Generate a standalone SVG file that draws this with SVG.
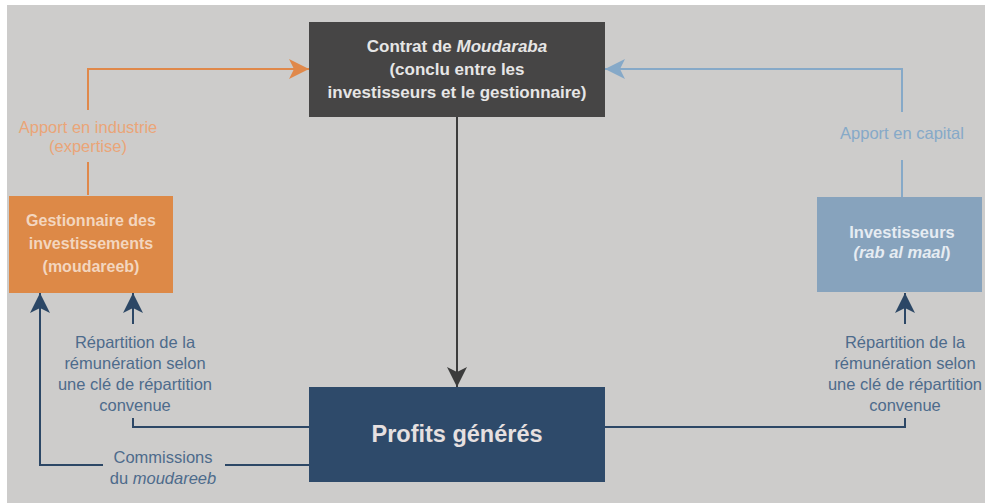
<svg xmlns="http://www.w3.org/2000/svg" width="985" height="503" viewBox="0 0 985 503">
<defs>
<style>
.lbl{font-family:"Liberation Sans",Arial,sans-serif;font-size:16.5px;text-anchor:middle}
.nav{fill:#4d6b8c}
.box{font-family:"Liberation Sans",Arial,sans-serif;font-weight:bold;text-anchor:middle}
.ln{fill:none;stroke-width:2}
</style>
<marker id="aO" viewBox="0 0 20 20" refX="20" refY="10" markerWidth="20" markerHeight="20" markerUnits="userSpaceOnUse" orient="auto"><path d="M0,0 L20,10 L0,20 L5,10 Z" fill="#e0884a"/></marker>
<marker id="aB" viewBox="0 0 20 20" refX="20" refY="10" markerWidth="20" markerHeight="20" markerUnits="userSpaceOnUse" orient="auto"><path d="M0,0 L20,10 L0,20 L5,10 Z" fill="#86a9c8"/></marker>
<marker id="aG" viewBox="0 0 20 20" refX="20" refY="10" markerWidth="20" markerHeight="20" markerUnits="userSpaceOnUse" orient="auto"><path d="M0,0 L20,10 L0,20 L5,10 Z" fill="#3c3c3c"/></marker>
<marker id="aN" viewBox="0 0 20 20" refX="20" refY="10" markerWidth="20" markerHeight="20" markerUnits="userSpaceOnUse" orient="auto"><path d="M0,0 L20,10 L0,20 L5,10 Z" fill="#2c4766"/></marker>
</defs>
<rect x="0" y="0" width="985" height="503" fill="#ffffff"/>
<rect x="7" y="5" width="978" height="498" fill="#cdcccb"/>

<g id="connectors">
<path class="ln" d="M88,195 V162 M88,110 V69 H309" stroke="#e0884a" marker-end="url(#aO)"/>
<path class="ln" d="M902,197 V160 M902,112 V69 H605" stroke="#86a9c8" marker-end="url(#aB)"/>
<path class="ln" d="M457,117 V387" stroke="#3c3c3c" marker-end="url(#aG)"/>
<path class="ln" d="M309,427 H133 V418" stroke="#2c4766"/>
<path class="ln" d="M133,324 V293" stroke="#2c4766" marker-end="url(#aN)"/>
<path class="ln" d="M309,465 H225 M103,465 H40 V293" stroke="#2c4766" marker-end="url(#aN)"/>
<path class="ln" d="M605,427 H905 V418" stroke="#2c4766"/>
<path class="ln" d="M905,324 V293" stroke="#2c4766" marker-end="url(#aN)"/>
</g>

<g id="contrat">
<rect x="309" y="22" width="296" height="95" fill="#464545"/>
<text class="box" font-size="17" fill="#e6e6e6" x="457" y="52">Contrat de <tspan font-style="italic">Moudaraba</tspan></text>
<text class="box" font-size="17" fill="#e6e6e6" x="457" y="75">(conclu entre les</text>
<text class="box" font-size="17" fill="#e6e6e6" x="457" y="98">investisseurs et le gestionnaire)</text>
</g>

<g id="gestionnaire">
<rect x="9" y="196" width="164" height="97" fill="#dd8947"/>
<text class="box" font-size="16" fill="#f3d6bf" x="91" y="226">Gestionnaire des</text>
<text class="box" font-size="16" fill="#f3d6bf" x="91" y="249">investissements</text>
<text class="box" font-size="16" fill="#f3d6bf" x="91" y="272">(moudareeb)</text>
</g>

<g id="investisseurs">
<rect x="817" y="197" width="165" height="95" fill="#87a3bd"/>
<text class="box" font-size="16.5" fill="#e6ecf2" x="902" y="238">Investisseurs</text>
<text class="box" font-size="16.5" fill="#e6ecf2" x="902" y="258"><tspan font-style="italic">(rab al maal</tspan>)</text>
</g>

<g id="profits">
<rect x="309" y="387" width="296" height="95" fill="#2e4a6a"/>
<text class="box" font-size="23.5" fill="#e6e0e0" x="457" y="442">Profits générés</text>
</g>

<g id="labels">
<text class="lbl" fill="#eaa578" x="88" y="133">Apport en industrie</text>
<text class="lbl" fill="#eaa578" x="88" y="152">(expertise)</text>
<text class="lbl" fill="#86a9c8" x="902" y="139">Apport en capital</text>
<text class="lbl nav" x="135" y="348">Répartition de la</text>
<text class="lbl nav" x="135" y="369">rémunération selon</text>
<text class="lbl nav" x="135" y="390">une clé de répartition</text>
<text class="lbl nav" x="135" y="411">convenue</text>
<text class="lbl nav" x="905" y="348">Répartition de la</text>
<text class="lbl nav" x="905" y="369">rémunération selon</text>
<text class="lbl nav" x="905" y="390">une clé de répartition</text>
<text class="lbl nav" x="905" y="411">convenue</text>
<text class="lbl nav" x="163" y="463">Commissions</text>
<text class="lbl nav" x="163" y="484">du <tspan font-style="italic">moudareeb</tspan></text>
</g>
</svg>
